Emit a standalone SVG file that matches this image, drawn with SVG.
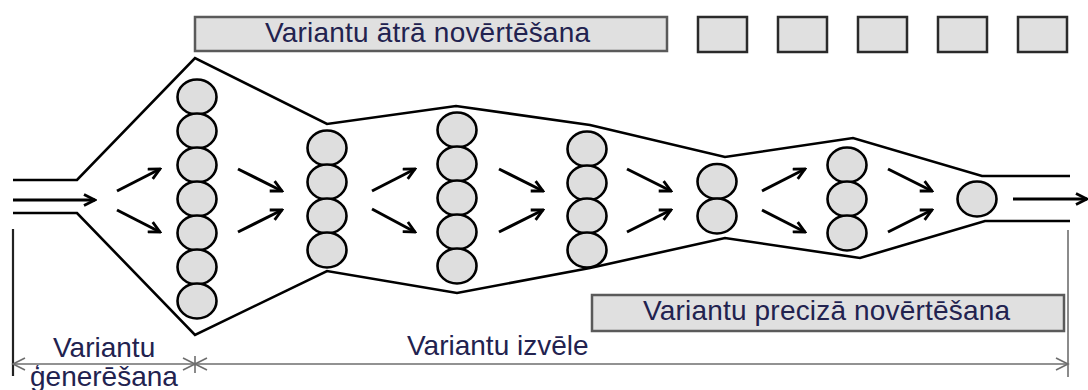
<svg xmlns="http://www.w3.org/2000/svg" width="1088" height="390" viewBox="0 0 1088 390">
  <style>
    .box { fill: #e0e0e0; stroke: #5a5a5a; stroke-width: 2.5; }
    .sbox { fill: #e0e0e0; stroke: #2a2a2a; stroke-width: 2.5; }
    .lbl { font-family: "Liberation Sans", Arial, sans-serif; font-size: 28px; fill: #22224f; }
    .var { fill: #dedede; stroke: #000; stroke-width: 2.6; }
    .wall { fill: none; stroke: #000; stroke-width: 2.6; stroke-linejoin: miter; }
    .arr { fill: none; stroke: #000; stroke-width: 3; marker-end: url(#head); }
    .dim { fill: none; stroke: #6e6e6e; stroke-width: 1.6; }
  </style>
  <defs>
    <marker id="head" viewBox="0 0 14 14" refX="12" refY="7" markerWidth="14" markerHeight="14" markerUnits="userSpaceOnUse" orient="auto">
      <path d="M1,1.5 L12,7 L1,12.5" fill="none" stroke="#000" stroke-width="2.8"/>
    </marker>
    <ellipse id="v" rx="19.5" ry="17.5" class="var"/>
  </defs>

  <!-- evaluation stages -->
  <g id="fast-eval">
    <rect class="box" x="195" y="17" width="472" height="34"/>
    <text class="lbl" x="265" y="42" textLength="325" lengthAdjust="spacing">Variantu ātrā novērtēšana</text>
  </g>
  <g id="fast-eval-steps">
    <rect class="sbox" x="698" y="17" width="49" height="35"/>
    <rect class="sbox" x="778" y="17" width="49" height="35"/>
    <rect class="sbox" x="858" y="17" width="49" height="35"/>
    <rect class="sbox" x="938" y="17" width="49" height="35"/>
    <rect class="sbox" x="1018" y="17" width="49" height="35"/>
  </g>
  <g id="precise-eval">
    <rect class="box" x="592" y="295" width="472" height="36"/>
    <text class="lbl" x="643" y="320" textLength="367" lengthAdjust="spacing">Variantu precizā novērtēšana</text>
  </g>

  <!-- funnel walls -->
  <g id="funnel">
    <polyline class="wall" points="13,180 77,180 195,58 327,124 456,106 590,125 725,157 853,138 982,176 1070,176"/>
    <polyline class="wall" points="13,213 77,213 195,335 327,271 457,293 590,268 725,238 860,258 985,221 1070,221"/>
  </g>

  <!-- variant columns -->
  <g id="col1">
    <use href="#v" x="197" y="97"/><use href="#v" x="197" y="131"/><use href="#v" x="197" y="165"/>
    <use href="#v" x="197" y="199"/><use href="#v" x="197" y="233"/><use href="#v" x="197" y="267"/>
    <use href="#v" x="197" y="301"/>
  </g>
  <g id="col2">
    <use href="#v" x="327" y="148"/><use href="#v" x="327" y="182"/><use href="#v" x="327" y="216"/>
    <use href="#v" x="327" y="250"/>
  </g>
  <g id="col3">
    <use href="#v" x="457" y="130"/><use href="#v" x="457" y="164"/><use href="#v" x="457" y="198"/>
    <use href="#v" x="457" y="232"/><use href="#v" x="457" y="266"/>
  </g>
  <g id="col4">
    <use href="#v" x="587" y="149"/><use href="#v" x="587" y="183"/><use href="#v" x="587" y="216"/>
    <use href="#v" x="587" y="250"/>
  </g>
  <g id="col5">
    <use href="#v" x="717" y="181.5"/><use href="#v" x="717" y="216"/>
  </g>
  <g id="col6">
    <use href="#v" x="847" y="165"/><use href="#v" x="847" y="199"/><use href="#v" x="847" y="233"/>
  </g>
  <g id="col7">
    <use href="#v" x="977" y="199"/>
  </g>

  <!-- flow arrows -->
  <g id="connectors">
    <line class="arr" x1="13" y1="200" x2="95" y2="200"/>
    <line class="arr" x1="117" y1="191" x2="160" y2="169"/>
    <line class="arr" x1="117" y1="210" x2="160" y2="232"/>
    <line class="arr" x1="238" y1="169" x2="282" y2="191"/>
    <line class="arr" x1="238" y1="232" x2="282" y2="210"/>
    <line class="arr" x1="372" y1="191" x2="415" y2="169"/>
    <line class="arr" x1="372" y1="209" x2="415" y2="232"/>
    <line class="arr" x1="499" y1="169" x2="543" y2="191"/>
    <line class="arr" x1="499" y1="232" x2="543" y2="210"/>
    <line class="arr" x1="627" y1="169" x2="671" y2="191"/>
    <line class="arr" x1="627" y1="232" x2="671" y2="210"/>
    <line class="arr" x1="762" y1="191" x2="805" y2="169"/>
    <line class="arr" x1="762" y1="210" x2="805" y2="232"/>
    <line class="arr" x1="888" y1="169" x2="932" y2="191"/>
    <line class="arr" x1="888" y1="232" x2="932" y2="210"/>
    <line class="arr" x1="1013" y1="199" x2="1087" y2="199"/>
  </g>

  <!-- phase dimensions -->
  <g id="dimensions">
    <line x1="13" y1="229" x2="13" y2="376" stroke="#222" stroke-width="2.2"/>
    <line class="dim" x1="1068" y1="230" x2="1068" y2="377"/>
    <line class="dim" x1="13" y1="364" x2="1068" y2="364"/>
    <path class="dim" d="M25,358 L13,364 L25,370"/>
    <path class="dim" d="M183,358 L195,364 L183,370 M207,358 L195,364 L207,370 M195,356 L195,373"/>
    <path class="dim" d="M1056,358 L1068,364 L1056,370"/>
    <text class="lbl" x="53" y="357">Variantu</text>
    <text class="lbl" x="30" y="386">ģenerēšana</text>
    <text class="lbl" x="407" y="355">Variantu izvēle</text>
  </g>
</svg>
